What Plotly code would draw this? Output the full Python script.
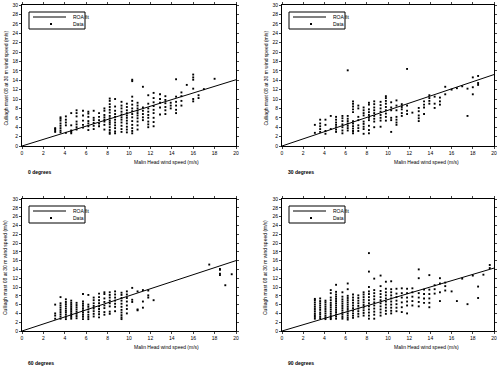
import plotly.graph_objects as go

# ---------------- data ----------------
captions = ["0 degrees", "30 degrees", "60 degrees", "90 degrees"]
fit_label = "ROA fit"
data_label = "Data"
x_title = "Malin Head wind speed (m/s)"
y_title = "Culliagh mast 08 at 30 m wind speed (m/s)"
x_ticks = list(range(0, 21, 2))
y_ticks = list(range(0, 31, 2))

# fitted line end values at x = 20 (line passes through origin)
fit_x = [0, 20]
fit_end = [14.1, 15.2, 16.0, 14.3]

p0_x = [3.1, 3.6, 4.1, 4.6, 5.1, 5.7, 6.2, 6.7, 7.2, 7.7, 8.2, 8.7, 9.3, 9.8, 10.3, 10.8,
        11.3, 11.8, 12.3, 12.9, 13.4, 13.9, 14.4, 14.9, 15.4, 16.0, 16.5, 17.0, 18.0]
p0_y = [
    [3.0, 3.3, 3.6, 3.8],
    [2.9, 3.3, 3.8, 4.3, 4.8, 5.4, 5.8, 6.1],
    [2.8, 4.4, 5.0, 5.6, 6.3],
    [2.7, 3.0, 3.3, 4.4, 7.0],
    [3.5, 4.0, 4.6, 5.2, 6.3, 7.0, 7.6],
    [3.9, 4.5, 5.4, 6.5, 7.5],
    [3.4, 4.2, 4.8, 5.3, 6.2, 6.9, 7.3],
    [3.6, 4.3, 4.9, 5.5, 6.0, 7.5],
    [4.2, 4.8, 5.5, 6.2, 7.0],
    [3.5, 4.5, 5.2, 5.6, 6.1, 6.6, 7.5, 8.0],
    [2.6, 2.9, 3.4, 4.0, 4.6, 5.0, 5.4, 5.9, 6.4, 7.1, 7.7, 8.3, 8.9, 9.6, 10.1],
    [2.7, 3.1, 3.8, 4.4, 5.0, 5.6, 6.2, 6.8, 7.5, 8.4, 10.0],
    [3.0, 3.6, 4.3, 5.0, 5.6, 6.1, 6.7, 7.3, 8.0, 8.6, 9.4],
    [2.9, 3.5, 4.1, 4.8, 5.4, 6.0, 6.5, 7.0, 7.6, 8.3, 9.0],
    [2.7, 3.2, 3.8, 4.5, 5.3, 6.1, 6.8, 7.4, 8.0, 8.8, 9.6, 10.5, 13.8, 14.1],
    [3.5, 4.4, 5.2, 5.9, 6.5, 7.0, 7.5, 8.0, 8.6, 9.2],
    [5.5, 6.1, 6.8, 7.5, 8.2, 12.6],
    [4.0, 4.6, 5.2, 6.0, 6.6, 7.3, 8.0, 9.0, 10.8],
    [4.2, 5.1, 6.0, 7.0, 7.7, 8.5, 9.3, 10.2, 11.3],
    [6.7, 8.2, 9.2, 10.0, 11.0],
    [6.8, 7.6, 8.3, 9.1, 9.8, 10.6],
    [8.0, 8.6, 9.2],
    [7.0, 7.7, 8.6, 9.4, 10.5, 14.2],
    [8.6, 9.6, 10.6, 11.4],
    [13.0],
    [9.5, 10.0, 12.2, 14.1, 14.6, 15.2],
    [10.2, 10.8],
    [12.1],
    [14.3],
]

p1_x = [3.1, 3.6, 4.1, 4.6, 5.1, 5.7, 6.2, 6.7, 7.2, 7.7, 8.2, 8.7, 9.3, 9.8, 10.3, 10.8,
        11.3, 11.8, 12.3, 12.9, 13.4, 13.9, 14.4, 14.9, 15.4, 16.0, 16.5, 17.0, 17.5, 18.0, 18.5]
p1_y = [
    [2.8, 4.5],
    [3.0, 3.6, 4.2, 4.8, 5.6],
    [2.6, 3.2, 4.5, 5.6],
    [3.6, 6.4],
    [3.0, 3.5, 4.0, 4.5, 5.0, 5.6, 6.2],
    [2.7, 3.3, 4.0, 4.6, 5.3, 5.9, 6.4],
    [3.3, 3.8, 4.3, 4.8, 5.3, 5.8, 6.4, 16.1],
    [2.7, 3.2, 3.7, 4.2, 4.8, 5.3, 7.2, 7.8, 8.4, 9.0, 9.5],
    [3.2, 3.8, 4.4, 5.5, 6.2, 8.0, 8.6],
    [2.6, 3.6, 4.1, 4.7, 5.2, 6.5, 7.0, 7.6, 8.2],
    [2.7, 3.4, 4.3, 5.5, 6.0, 6.6, 7.2, 7.8, 8.8, 9.2],
    [4.0, 5.2, 5.8, 6.4, 7.0, 7.6, 8.2, 8.9, 9.5],
    [4.1, 5.4, 6.0, 6.6, 7.3, 8.0, 8.7, 9.4],
    [5.4, 6.2, 6.9, 7.6, 8.3, 9.0, 9.6, 10.2, 10.6],
    [3.0, 5.5, 6.0, 7.6, 8.2, 9.3],
    [4.5, 5.0, 5.6, 6.2, 7.6, 8.6, 9.7],
    [6.4, 7.0, 7.8, 8.3, 8.9],
    [6.8, 7.5, 8.6, 16.4],
    [7.1],
    [5.3, 5.9, 6.5, 7.4, 8.1],
    [6.8, 8.2, 8.8, 9.5],
    [9.0, 9.6, 10.2, 10.8],
    [8.1, 9.0, 10.5],
    [8.8, 9.5, 10.3],
    [11.0, 12.6],
    [12.0],
    [12.3],
    [12.7],
    [6.4, 12.2],
    [11.0, 12.5, 14.6],
    [13.0, 13.4, 14.9],
]

p2_x = [3.1, 3.6, 4.1, 4.6, 5.1, 5.7, 6.2, 6.7, 7.2, 7.7, 8.2, 8.7, 9.3, 9.8, 10.3, 10.8,
        11.3, 11.8, 12.3, 17.5, 18.5, 19.0, 19.6]
p2_y = [
    [2.8, 3.5, 4.0, 6.0],
    [2.8, 3.3, 3.8, 4.3, 4.8, 5.3, 5.8, 6.3, 7.7],
    [2.7, 3.2, 3.7, 4.2, 4.6, 5.1, 5.6, 6.1, 6.6, 7.2],
    [2.8, 3.2, 3.6, 4.0, 4.4, 4.8, 5.2, 5.6, 6.0, 6.4, 6.9],
    [2.9, 3.4, 3.9, 4.4, 4.9, 5.4, 5.9, 6.4],
    [2.7, 3.2, 3.7, 4.2, 4.7, 5.2, 5.7, 6.2, 6.7, 8.4],
    [2.7, 3.2, 3.7, 4.3, 4.9, 5.5, 6.0, 8.2],
    [3.3, 3.9, 4.5, 5.1, 5.7, 6.3, 7.0, 7.6],
    [3.1, 3.8, 4.4, 5.0, 5.6, 6.3, 7.0, 7.7, 8.5],
    [3.7, 4.3, 5.2, 5.8, 6.6, 7.4, 8.4, 8.8],
    [3.9, 4.4, 5.6, 6.3, 6.9, 7.6, 8.2, 8.8],
    [4.5, 5.5, 6.2, 6.9, 7.6, 8.3, 9.0],
    [2.7, 3.1, 3.6, 4.2, 4.8, 5.5, 6.2, 6.9, 7.5, 8.2, 8.7],
    [4.0, 5.0, 5.8, 6.7, 7.5, 8.3, 9.0],
    [6.6, 7.1, 9.8],
    [4.7, 4.9, 9.0],
    [5.3, 6.7, 9.3],
    [7.6, 8.1, 9.2],
    [7.0],
    [15.1],
    [12.7, 13.0, 13.9, 14.1],
    [10.4],
    [12.9],
]

p3_x = [3.1, 3.6, 4.1, 4.6, 5.1, 5.7, 6.2, 6.7, 7.2, 7.7, 8.2, 8.7, 9.3, 9.8, 10.3, 10.8,
        11.3, 11.8, 12.3, 12.9, 13.4, 13.9, 14.4, 14.9, 15.4, 16.0, 16.5, 17.0, 17.5, 18.0,
        18.5, 19.0, 19.6]
p3_y = [
    [2.8, 3.2, 3.6, 4.0, 4.5, 5.0, 5.5, 6.0, 6.5, 7.0, 7.3],
    [2.9, 3.3, 3.8, 4.2, 4.8, 5.3, 5.8, 6.3, 6.8, 7.4],
    [2.7, 3.1, 3.5, 4.0, 4.5, 5.0, 5.5, 6.0, 6.5, 6.9],
    [2.7, 3.0, 3.4, 3.9, 4.4, 4.9, 5.4, 5.9, 6.4, 7.0, 7.6, 8.6, 9.3],
    [2.8, 3.3, 3.8, 4.3, 4.8, 5.3, 5.8, 6.3, 6.8, 7.3, 7.8, 8.3, 8.9, 10.5],
    [2.8, 3.2, 3.7, 4.2, 4.7, 5.2, 5.7, 6.2, 6.7, 7.2, 7.8, 8.8],
    [2.6, 3.0, 3.5, 4.0, 4.5, 5.0, 5.5, 6.0, 6.5, 7.0, 7.5, 8.0, 9.5, 10.8],
    [3.0, 3.5, 4.0, 4.6, 5.2, 5.8, 6.4, 7.0, 7.6, 8.3],
    [3.3, 3.9, 4.5, 5.1, 5.7, 6.3, 6.9, 7.5, 8.1],
    [3.5, 4.1, 4.7, 5.3, 5.9, 6.5, 7.1, 7.7, 8.3, 8.8],
    [2.8, 3.5, 4.2, 4.9, 5.6, 6.3, 7.0, 7.7, 8.4, 9.0, 10.0, 13.5, 17.7],
    [2.8, 3.7, 4.4, 5.1, 5.8, 6.5, 7.2, 7.9, 8.6, 9.3, 11.9],
    [3.5, 4.2, 4.9, 5.6, 6.3, 7.0, 7.7, 8.4, 9.1, 10.2, 12.6],
    [3.9, 4.6, 5.3, 6.0, 6.7, 7.4, 8.1, 8.8, 9.6, 11.2],
    [4.0, 4.6, 5.3, 6.0, 6.7, 7.4, 8.1, 8.8, 9.5, 11.3],
    [4.5, 5.3, 6.1, 6.9, 7.7, 8.5, 9.6],
    [4.3, 5.4, 6.5, 7.6, 8.6, 9.7],
    [4.0, 5.8, 6.7, 7.6, 8.6, 9.6],
    [5.8, 6.8, 7.8, 8.8, 9.7],
    [5.6, 6.6, 7.6, 8.6, 12.0, 14.0],
    [6.4, 7.4, 8.4, 9.4],
    [5.4, 6.4, 7.4, 8.4, 9.4, 12.7],
    [8.5, 9.5, 10.4],
    [6.8, 8.8, 10.8, 12.0],
    [9.2, 10.2, 11.0],
    [9.0],
    [6.8],
    [11.9],
    [6.1],
    [12.6],
    [7.5, 10.1],
    [12.8],
    [14.3, 15.0],
]

panels_x = [p0_x, p1_x, p2_x, p3_x]
panels_y = [p0_y, p1_y, p2_y, p3_y]

# ---------------- layout geometry (pixels) ----------------
W, H = 500, 367
# plot areas: left, right, top, bottom
areas = [(22, 236, 5, 146), (282, 494, 5, 146), (22, 236, 199, 331), (282, 494, 199, 331)]
caption_gap = [26, 26, 32, 32]
font_family = "Liberation Sans, Arial, sans-serif"
FS = 5


def px(x):
    return x / W


def py(y):
    return 1 - y / H


fig = go.Figure()
layout = dict(
    width=W, height=H,
    margin=dict(l=0, r=0, t=0, b=0),
    paper_bgcolor="white", plot_bgcolor="white",
    showlegend=False,
    font=dict(family=font_family, size=FS, color="black"),
)
annotations = []
shapes = []

for i in range(4):
    sfx = "" if i == 0 else str(i + 1)
    xa, ya = "x" + sfx, "y" + sfx
    xs, ys = [], []
    for xv, yl in zip(panels_x[i], panels_y[i]):
        for yv in yl:
            xs.append(xv)
            ys.append(yv)
    fig.add_trace(go.Scatter(
        x=fit_x, y=[0, fit_end[i]], mode="lines", name=fit_label,
        line=dict(color="black", width=1), xaxis=xa, yaxis=ya,
        hoverinfo="skip"))
    fig.add_trace(go.Scatter(
        x=xs, y=ys, mode="markers", name=data_label,
        marker=dict(color="black", size=1.9, symbol="square"),
        xaxis=xa, yaxis=ya))

    L, R, T, B = areas[i]
    layout["xaxis" + sfx] = dict(
        domain=[px(L), px(R)], anchor=ya, range=[0, 20],
        tickvals=x_ticks, ticks="outside", ticklen=2, tickwidth=1,
        showline=True, linecolor="black", linewidth=1, mirror="ticks",
        showgrid=False, zeroline=False, automargin=False,
        tickfont=dict(size=FS, family=font_family, color="black"))
    layout["yaxis" + sfx] = dict(
        domain=[py(B), py(T)], anchor=xa, range=[0, 30],
        tickvals=y_ticks, ticks="outside", ticklen=2, tickwidth=1,
        showline=True, linecolor="black", linewidth=1, mirror="ticks",
        showgrid=False, zeroline=False, automargin=False,
        tickfont=dict(size=FS, family=font_family, color="black"))

    # y-axis title
    annotations.append(dict(
        text=y_title, xref="paper", yref="paper", textangle=-90,
        x=px(L - 17), y=py((T + B) / 2 + 3), xanchor="center", yanchor="middle",
        showarrow=False, font=dict(size=FS, family=font_family)))
    # x-axis title (offset to the right as in the original)
    annotations.append(dict(
        text=x_title, xref="paper", yref="paper",
        x=px(L + 144), y=py(B + 16), xanchor="center", yanchor="middle",
        showarrow=False, font=dict(size=FS, family=font_family)))
    # panel caption
    annotations.append(dict(
        text="<b>" + captions[i] + "</b>", xref="paper", yref="paper",
        x=px(L + 4), y=py(B + caption_gap[i]), xanchor="left", yanchor="middle",
        showarrow=False, font=dict(size=FS, family=font_family)))

    # legend box (drawn manually to match the compact original)
    lx0, ly0 = L + 7, T + 7
    lx1, ly1 = lx0 + 56, ly0 + 17
    shapes.append(dict(type="rect", xref="paper", yref="paper",
                       x0=px(lx0), x1=px(lx1), y0=py(ly1), y1=py(ly0),
                       line=dict(color="black", width=1), fillcolor="white", layer="above"))
    shapes.append(dict(type="line", xref="paper", yref="paper",
                       x0=px(lx0 + 4), x1=px(lx0 + 37), y0=py(ly0 + 5), y1=py(ly0 + 5),
                       line=dict(color="black", width=1), layer="above"))
    shapes.append(dict(type="rect", xref="paper", yref="paper",
                       x0=px(lx0 + 21), x1=px(lx0 + 23), y0=py(ly0 + 13), y1=py(ly0 + 11),
                       line=dict(width=0), fillcolor="black", layer="above"))
    annotations.append(dict(
        text=fit_label, xref="paper", yref="paper",
        x=px(lx0 + 42), y=py(ly0 + 5), xanchor="left", yanchor="middle",
        showarrow=False, font=dict(size=FS, family=font_family)))
    annotations.append(dict(
        text=data_label, xref="paper", yref="paper",
        x=px(lx0 + 42), y=py(ly0 + 12), xanchor="left", yanchor="middle",
        showarrow=False, font=dict(size=FS, family=font_family)))

layout["annotations"] = annotations
layout["shapes"] = shapes
fig.update_layout(**layout)
fig.write_html("out.html", config={"displayModeBar": False},
               post_script="document.body.style.margin='0';document.body.style.padding='0';")
